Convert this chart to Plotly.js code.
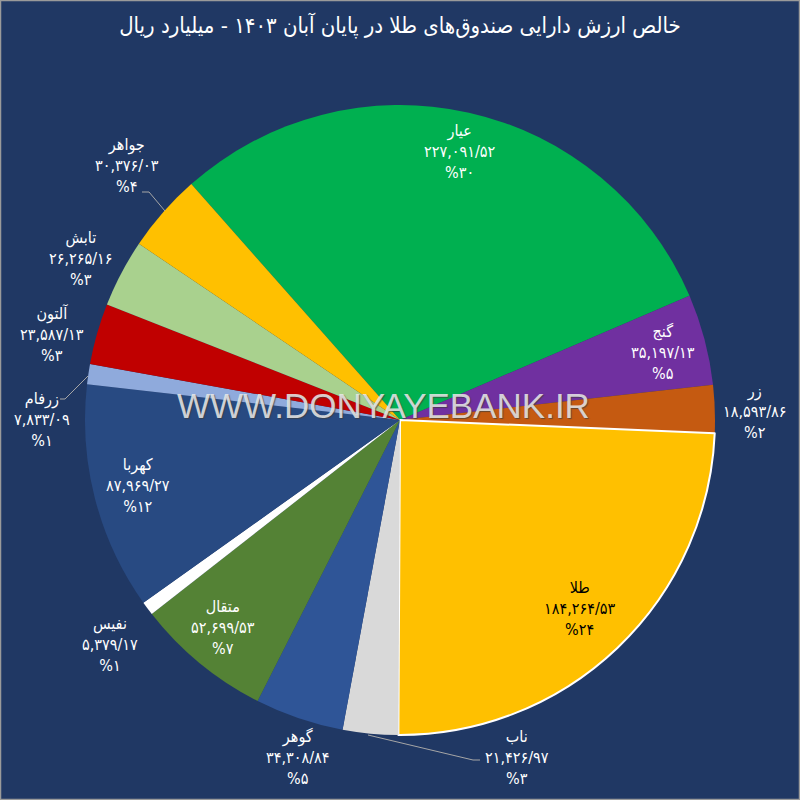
<!DOCTYPE html>
<html>
<head>
<meta charset="utf-8">
<script src="https://cdn.plot.ly/plotly-3.0.1.min.js"></script>
<style>
html,body{margin:0;padding:0;background:#203864;}
#chart{width:800px;height:800px;}
</style>
</head>
<body>
<div id="chart"></div>
<script>
// ---- data ----
const chartTitle = 'خالص ارزش دارایی صندوق‌های طلا در پایان آبان ۱۴۰۳ - میلیارد ریال';
const fundNames = ['عیار','گنج','زر','طلا','ناب','گوهر','متقال','نفیس','کهربا','زرفام','آلتون','تابش','جواهر'];
const netAssetValues = [227091.52, 35197.13, 18593.86, 184264.53, 21426.97, 34308.84, 52699.53, 5379.17, 87969.27, 7833.09, 23587.13, 26265.16, 30376.03];
const watermark = 'WWW.DONYAYEBANK.IR';

// ---- styles ----
const sliceColors = ['#00b050','#7030a0','#c55a11','#ffc000','#d9d9d9','#2f5597','#548235','#ffffff','#284a82','#8faadc','#c00000','#a9d18e','#ffc000'];
const textColors = fundNames.map((n,i)=> i===3 ? '#000000' : '#ffffff');
const lineColors = fundNames.map((n,i)=> i===3 ? '#ffffff' : 'rgba(0,0,0,0)');
const lineWidths = fundNames.map((n,i)=> i===3 ? 2 : 0);
// label block centres (page pixels, centre of the middle line)
const labelAnchors = [[460,152],[663,352],[755,411],[580,608],[517,757],[298,757],[223,627],[110,644],[138,485],[42,419],[52,334],[81,258],[127,165]];
// leader lines (page pixels)
const leaderLines = [
  [[142,192],[149,192],[165,211]],
  [[60,399],[65,399],[88,376]],
  [[368,735],[473,760],[480,760]]
];

const faDigits = '۰۱۲۳۴۵۶۷۸۹';
function toFa(s){ return String(s).replace(/[0-9]/g, d => faDigits[+d]); }
function fmtValue(v){
  const parts = v.toFixed(2).split('.');
  const intPart = parts[0].replace(/\B(?=(\d{3})+(?!\d))/g, ',');
  return toFa(intPart) + '/' + toFa(parts[1]);
}
const total = netAssetValues.reduce((a,b)=>a+b,0);
const labelTexts = netAssetValues.map((v,i)=>
  fundNames[i] + '<br>' + fmtValue(v) + '<br>%' + toFa(Math.round(v/total*100))
);

const FONT = 'DejaVu Sans Condensed, DejaVu Sans, sans-serif';
const M = { l: 85, r: 85, t: 105, b: 65 };
const PW = 800 - M.l - M.r, PH = 800 - M.t - M.b;
const px = x => (x - M.l) / PW;
const py = y => (800 - M.b - y) / PH;

const trace = {
  type: 'pie',
  labels: fundNames,
  values: netAssetValues,
  textinfo: 'none',
  hoverinfo: 'none',
  sort: false,
  direction: 'clockwise',
  rotation: -41.5,
  marker: { colors: sliceColors, line: { color: lineColors, width: lineWidths } },
  showlegend: false
};

const annotations = labelTexts.map((t,i)=>({
  text: t, xref: 'paper', yref: 'paper',
  x: px(labelAnchors[i][0]), y: py(labelAnchors[i][1]),
  xanchor: 'center', yanchor: 'middle', align: 'center',
  showarrow: false,
  font: { family: FONT, size: 16, color: textColors[i] }
}));
annotations.push({
  text: watermark, xref: 'paper', yref: 'paper', x: px(383), y: py(405),
  xanchor: 'center', yanchor: 'middle',
  showarrow: false,
  font: { family: 'Liberation Sans, Arial, sans-serif', size: 35, color: 'rgba(235,235,235,0.85)', shadow: '1px 1px 1px rgba(60,60,60,0.8)' }
});

const shapes = leaderLines.map(pts => ({
  type: 'path', xref: 'paper', yref: 'paper',
  path: 'M' + pts.map(p => px(p[0]) + ',' + py(p[1])).join(' L'),
  line: { color: '#a6a6a6', width: 1 }
}));
shapes.push({
  type: 'rect', xref: 'paper', yref: 'paper',
  x0: px(0.5), x1: px(799.5), y0: py(0.5), y1: py(799.5),
  line: { color: '#9a9a9a', width: 1.5 }
});

const layout = {
  width: 800, height: 800,
  paper_bgcolor: '#203864',
  plot_bgcolor: '#203864',
  margin: M,
  title: {
    text: '\u202B' + chartTitle + '\u202C',
    font: { family: FONT, size: 22, color: '#ffffff' },
    x: 0.5, xref: 'paper', y: 0.969, yref: 'container', yanchor: 'middle'
  },
  annotations: annotations,
  shapes: shapes
};

Plotly.newPlot('chart', [trace], layout, { displayModeBar: false, staticPlot: true });
</script>
</body>
</html>
